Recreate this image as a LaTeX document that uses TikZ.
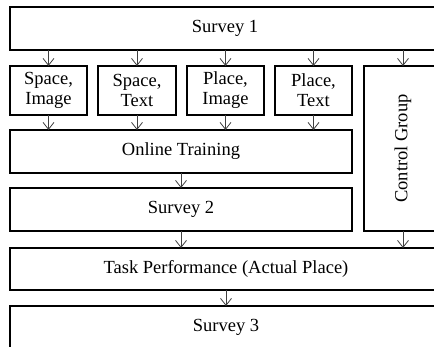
\documentclass[tikz,border=0pt]{standalone}
\usepackage{fontspec}
\setmainfont{Liberation Serif}
\usetikzlibrary{arrows.meta,positioning}

\begin{document}
\begin{tikzpicture}[x=1pt,y=-1pt]
\tikzset{bx/.style={draw=black, line width=1.5pt, rectangle, outer sep=0pt, inner sep=0pt, align=center, font=\fontsize{18.5}{20}\selectfont}}
\tikzset{arr/.style={draw=black!75, line width=0.8pt, -{Straight Barb[length=7pt,width=11pt]}}}

\useasboundingbox (0,0) rectangle (434,347);
\clip (0,0) rectangle (434,347);

\begin{scope}[every node/.style={bx}]
\node [minimum width=430, minimum height=43] (S1) at (225,28.5) {Survey 1};
\node [minimum width=77, minimum height=49] (SI) at (48.5,90.5) {Space,\\Image};
\node [minimum width=78, minimum height=49] (ST) at (137,90.5) {Space,\\Text};
\node [minimum width=77, minimum height=49] (PI) at (225.5,90.5) {Place,\\Image};
\node [minimum width=77, minimum height=49] (PT) at (313.5,90.5) {Place,\\Text};
\node [rotate=90, minimum width=165, minimum height=78] (CG) at (403,148.5) {Control Group};
\node [minimum width=342, minimum height=43] (OT) at (181,151.5) {Online Training};
\node [minimum width=342, minimum height=43] (S2) at (181,209.5) {Survey 2};
\node [minimum width=432, minimum height=42] (TP) at (226,269) {Task Performance (Actual Place)};
\node [minimum width=432, minimum height=43] (S3) at (226,327.5) {Survey 3};
\end{scope}

\foreach \n in {SI,ST,PI,PT} {
  \draw [arr] (S1.south -| \n) -- (\n.north);
  \draw [arr] (\n.south) -- (OT.north -| \n);
}
\draw [arr] (S1.south -| CG) -- (CG.east);
\draw [arr] (OT.south) -- (S2.north);
\draw [arr] (S2.south) -- (TP.north -| S2);
\draw [arr] (CG.west) -- (TP.north -| CG);
\draw [arr] (TP.south) -- (S3.north);

\end{tikzpicture}
\end{document}
